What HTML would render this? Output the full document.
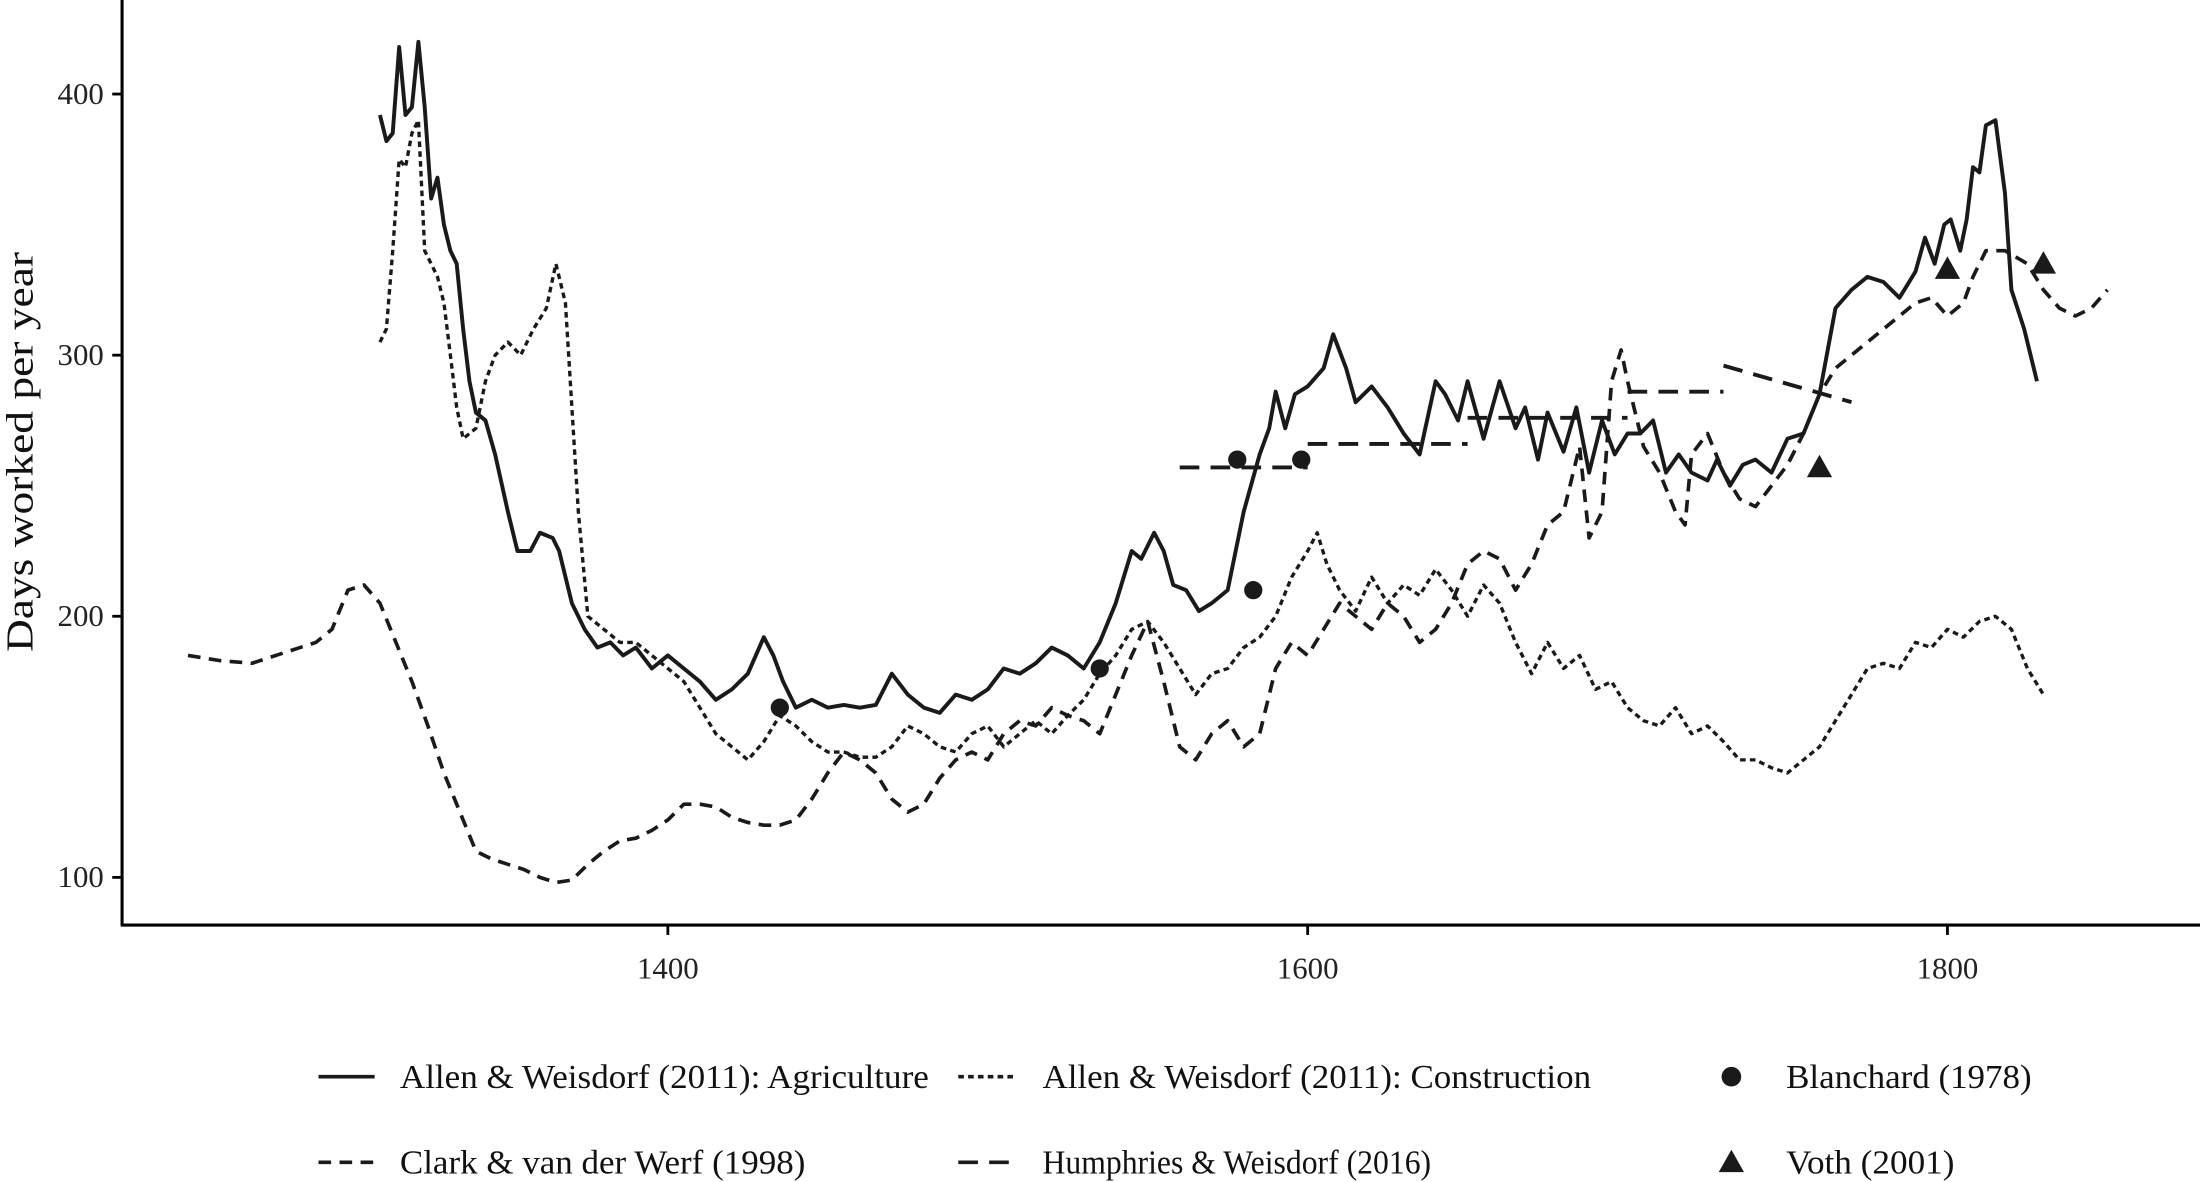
<!DOCTYPE html>
<html><head><meta charset="utf-8"><style>
html,body{margin:0;padding:0;background:#fff;}
svg{display:block;font-family:"Liberation Serif",serif;}
</style></head><body>
<svg id="chart" width="2200" height="1182" viewBox="0 0 1568 842" preserveAspectRatio="none" xmlns="http://www.w3.org/2000/svg">
<g id="plot"></g>
<g id="axes"></g>
<g id="legend"></g>
</svg>
<script>
const xTicks=[1400,1600,1800];
const yTicks=[100,200,300,400];
const agriYears=[1310,1312,1314,1316,1318,1320,1322,1324,1326,1328,1330,1332,1334,1336,1338,1340,1343,1346,1350,1353,1357,1360,1364,1366,1370,1374,1378,1382,1386,1390,1395,1400,1405,1410,1415,1420,1425,1430,1433,1436,1440,1445,1450,1455,1460,1465,1470,1475,1480,1485,1490,1495,1500,1505,1510,1515,1520,1525,1530,1535,1540,1545,1548,1552,1555,1558,1562,1566,1570,1575,1580,1585,1588,1590,1593,1596,1600,1605,1608,1612,1615,1620,1625,1630,1635,1640,1643,1647,1650,1655,1660,1665,1668,1672,1675,1680,1684,1688,1692,1696,1700,1704,1708,1712,1716,1720,1725,1728,1732,1736,1740,1745,1750,1755,1760,1765,1770,1775,1780,1785,1790,1793,1796,1799,1801,1804,1806,1808,1810,1812,1815,1818,1820,1824,1828];
const agriValues=[392,382,385,418,392,395,420,395,360,368,350,340,335,310,290,278,275,262,240,225,225,232,230,225,205,195,188,190,185,188,180,185,180,175,168,172,178,192,185,175,165,168,165,166,165,166,178,170,165,163,170,168,172,180,178,182,188,185,180,190,205,225,222,232,225,212,210,202,205,210,240,262,272,286,272,285,288,295,308,295,282,288,280,270,262,290,285,275,290,268,290,272,280,260,278,263,280,255,275,262,270,270,275,255,262,255,252,260,250,258,260,255,268,270,285,318,325,330,328,322,332,345,335,350,352,340,352,372,370,388,390,362,325,310,290];
const consYears=[1310,1312,1314,1316,1318,1320,1322,1324,1326,1328,1330,1332,1334,1336,1340,1343,1346,1350,1354,1358,1362,1365,1368,1370,1372,1375,1380,1385,1390,1395,1400,1405,1410,1415,1420,1425,1430,1435,1440,1445,1450,1455,1460,1465,1470,1475,1480,1485,1490,1495,1500,1505,1510,1515,1520,1525,1530,1535,1540,1545,1550,1555,1560,1565,1570,1575,1580,1585,1590,1595,1600,1603,1606,1610,1615,1620,1625,1630,1635,1640,1645,1650,1655,1660,1665,1670,1675,1680,1685,1690,1695,1700,1705,1710,1715,1720,1725,1730,1735,1740,1745,1750,1755,1760,1765,1770,1775,1780,1785,1790,1795,1800,1805,1810,1815,1820,1825,1830];
const consValues=[305,310,340,375,372,385,390,340,335,330,320,300,280,268,272,290,300,305,300,310,318,335,320,280,240,200,195,190,190,185,180,175,165,155,150,145,152,162,158,152,148,148,146,146,150,158,155,150,148,155,158,150,155,160,155,162,168,178,185,195,198,190,180,170,178,180,188,192,200,215,225,232,220,210,202,215,205,212,208,218,210,200,212,205,190,178,190,180,185,172,175,165,160,158,165,155,158,152,145,145,142,140,145,150,160,170,180,182,180,190,188,195,192,198,200,195,180,170];
const clarkYears=[1250,1260,1270,1280,1285,1290,1295,1300,1305,1310,1315,1320,1325,1330,1335,1340,1345,1350,1355,1360,1365,1370,1375,1380,1385,1390,1395,1400,1405,1410,1415,1420,1425,1430,1435,1440,1445,1450,1455,1460,1465,1470,1475,1480,1485,1490,1495,1500,1505,1510,1515,1520,1525,1530,1535,1540,1545,1550,1555,1560,1565,1570,1575,1580,1585,1590,1595,1600,1605,1610,1615,1620,1625,1630,1635,1640,1645,1650,1655,1660,1665,1670,1675,1680,1685,1688,1692,1695,1698,1700,1705,1710,1715,1718,1720,1725,1730,1735,1740,1745,1750,1755,1760,1765,1770,1775,1780,1785,1790,1795,1800,1805,1808,1812,1818,1825,1830,1835,1840,1845,1850];
const clarkValues=[185,183,182,186,188,190,195,210,212,205,190,175,158,140,125,110,107,105,103,100,98,99,105,110,114,115,118,122,128,128,127,123,121,120,120,122,130,140,148,145,140,130,125,128,138,145,148,145,155,160,158,165,162,160,155,170,185,198,175,150,145,155,160,150,155,180,190,185,195,205,200,195,205,200,190,195,205,220,225,222,210,220,235,240,265,230,240,290,302,290,265,255,240,235,262,270,255,245,242,250,258,270,285,295,300,305,310,315,320,322,315,320,330,340,340,335,325,318,315,318,325];
const humStart=[1560,1600,1650,1700,1730];
const humEnd=[1600,1650,1700,1730,1770];
const humStartVal=[257,266,276,286,296];
const humEndVal=[257,266,276,286,282];
const blanchardYears=[1435,1535,1578,1583,1598];
const blanchardValues=[165,180,260,210,260];
const vothYears=[1760,1800,1830];
const vothValues=[257,333,335];

const NS="http://www.w3.org/2000/svg";
const X=y=>476+(y-1400)*(932-476)/200;
const Y=v=>625-(v-100)*(625-67)/300;
function mk(tag,attrs,parent){const e=document.createElementNS(NS,tag);for(const k in attrs)e.setAttribute(k,attrs[k]);parent.appendChild(e);return e;}
const plot=document.getElementById('plot'),axes=document.getElementById('axes'),legend=document.getElementById('legend');
function line(xs,vs,dash,w,name){
  const d=xs.map((x,i)=>(i?'L':'M')+X(x).toFixed(1)+','+Y(vs[i]).toFixed(1)).join('');
  const p=mk('path',{d:d,fill:'none',stroke:'#1a1a1a','stroke-width':w,'stroke-dasharray':dash,'stroke-linejoin':'round'},plot);
  
  
}
line(clarkYears,clarkValues,'9,6',2.6,'clark-line');
line(consYears,consValues,'4,3',2.4,'construction-line');
line(agriYears,agriValues,'',2.8,'agriculture-line');
humStart.forEach((s,i)=>{
  const l=mk('line',{x1:X(s),y1:Y(humStartVal[i]),x2:X(humEnd[i]),y2:Y(humEndVal[i]),stroke:'#1a1a1a','stroke-width':2.8,'stroke-dasharray':'14,8'},plot);
  
  
});
blanchardYears.forEach((yr,i)=>{
  const c=mk('circle',{cx:X(yr),cy:Y(blanchardValues[i]),r:6.5,fill:'#1a1a1a'},plot);
  
  
});
vothYears.forEach((yr,i)=>{
  const cx=X(yr),cy=Y(vothValues[i]);
  const t=mk('polygon',{points:`${cx},${cy-9} ${cx-9},${cy+7} ${cx+9},${cy+7}`,fill:'#1a1a1a'},plot);
  
  
});
mk('line',{x1:87,y1:0,x2:87,y2:659,stroke:'#000','stroke-width':2.2},axes);
mk('line',{x1:86,y1:659,x2:1568,y2:659,stroke:'#000','stroke-width':2.2},axes);
yTicks.forEach(v=>{
  mk('line',{x1:80,y1:Y(v),x2:87,y2:Y(v),stroke:'#000','stroke-width':2},axes);
  const t=mk('text',{x:74,y:Y(v)+7,'text-anchor':'end','font-size':22,fill:'#222'},axes);
  t.textContent=v;
  
  
});
xTicks.forEach(v=>{
  mk('line',{x1:X(v),y1:659,x2:X(v),y2:666,stroke:'#000','stroke-width':2},axes);
  const t=mk('text',{x:X(v),y:697,'text-anchor':'middle','font-size':22,fill:'#222'},axes);
  t.textContent=v;
  
  
});
const yt=mk('text',{x:0,y:0,transform:'translate(23,322) rotate(-90)','text-anchor':'middle','font-size':27,fill:'#111',textLength:285,lengthAdjust:'spacingAndGlyphs'},axes);
yt.textContent='Days worked per year';


function entry(x,y,kind,label,tx,len){
  const g=mk('g',{},legend);
  
  
  if(kind==='dot')mk('circle',{cx:x,cy:y,r:7,fill:'#1a1a1a'},g);
  else if(kind==='tri')mk('polygon',{points:`${x},${y-9} ${x-9},${y+7} ${x+9},${y+7}`,fill:'#1a1a1a'},g);
  else mk('line',{x1:x-8,y1:y,x2:x+32,y2:y,stroke:'#1a1a1a','stroke-width':2.6,'stroke-dasharray':kind},g);
  const t=mk('text',{x:tx,y:y+8,'font-size':24,fill:'#111',textLength:len,lengthAdjust:'spacingAndGlyphs'},g);
  t.textContent=label;
}
entry(235,767,'','Allen & Weisdorf (2011): Agriculture',285,377);
entry(691,767,'4,3','Allen & Weisdorf (2011): Construction',743,391);
entry(1234,767,'dot','Blanchard (1978)',1273,175);
entry(235,828,'9,6','Clark & van der Werf (1998)',285,289);
entry(691,828,'14,8','Humphries & Weisdorf (2016)',743,277);
entry(1234,828,'tri','Voth (2001)',1273,120);
</script>
</body></html>
